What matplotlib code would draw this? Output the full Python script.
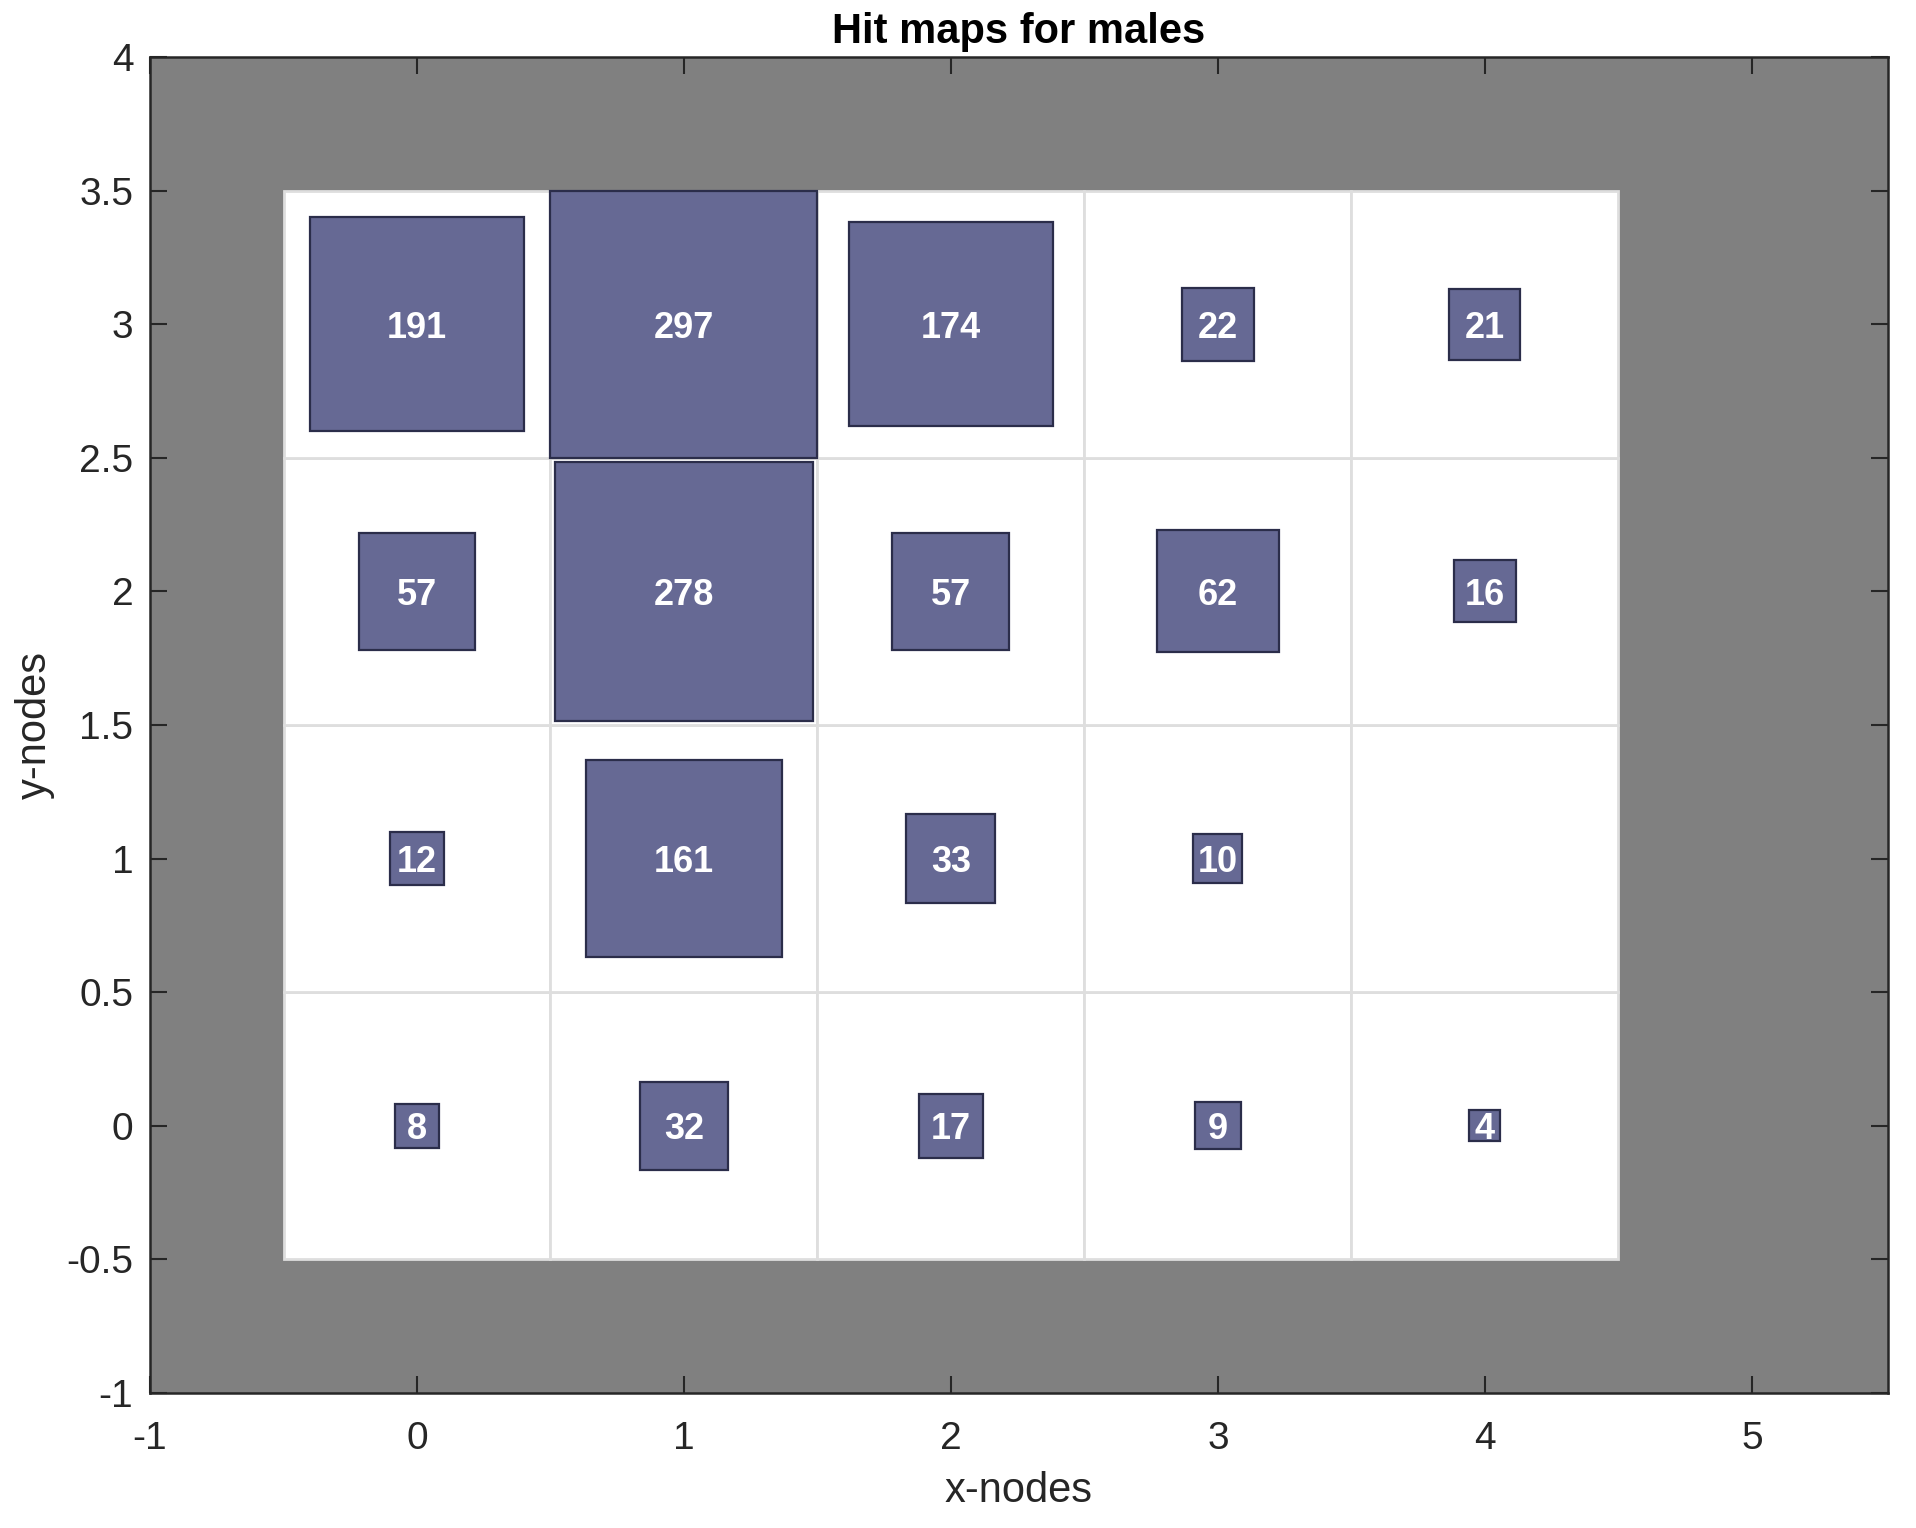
import numpy as np
import matplotlib.pyplot as plt
from matplotlib.patches import Rectangle

plt.rcParams['font.family'] = ['Liberation Sans', 'DejaVu Sans']
plt.rcParams['axes.unicode_minus'] = False

# hits per node, rows are y = 0..3, columns x = 0..4
hits_y0 = [8, 32, 17, 9, 4]
hits_y1 = [12, 161, 33, 10, 0]
hits_y2 = [57, 278, 57, 62, 16]
hits_y3 = [191, 297, 174, 22, 21]
x_nodes = [0, 1, 2, 3, 4]
y_nodes = [0, 1, 2, 3]

hits = np.array([hits_y0, hits_y1, hits_y2, hits_y3])
hmax = hits.max()

fig = plt.figure(figsize=(19.16, 15.28), dpi=100)
ax = fig.add_axes([0.0783, 0.0884, 0.9071, 0.8743])
ax.set_facecolor('#808080')

# white node cells with light grid
for yi in y_nodes:
    for xi in x_nodes:
        ax.add_patch(Rectangle((xi - 0.5, yi - 0.5), 1, 1, facecolor='white',
                               edgecolor='#dedede', linewidth=2, zorder=1))

# hit squares
for yi in y_nodes:
    for xi in x_nodes:
        h = hits[yi, xi]
        if h == 0:
            continue
        s = np.sqrt(h / hmax)
        ax.add_patch(Rectangle((xi - s / 2, yi - s / 2), s, s, facecolor='#666994',
                               edgecolor='#2b2d4a', linewidth=1.6, zorder=2))
        ax.text(xi, yi - 0.015, str(h), color='white', fontsize=26, fontweight='bold',
                ha='center', va='center', zorder=3)

ax.set_xlim(-1, 5.51)
ax.set_ylim(-1, 4)
ax.set_xticks([-1, 0, 1, 2, 3, 4, 5])
ax.set_yticks([-1, -0.5, 0, 0.5, 1, 1.5, 2, 2.5, 3, 3.5, 4])
ax.set_yticklabels(['-1', '-0.5', '0', '0.5', '1', '1.5', '2', '2.5', '3', '3.5', '4'])
ax.tick_params(direction='in', length=12, width=1.5, top=True, right=True,
               labelsize=28, colors='#262626', pad=12)
ax.tick_params(axis='x', pad=20)
for sp in ax.spines.values():
    sp.set_linewidth(1.8)
    sp.set_color('#262626')

ax.set_xlabel('x-nodes', fontsize=30, color='#262626', labelpad=10)
ax.set_ylabel('y-nodes', fontsize=30, color='#262626', labelpad=8)
ax.set_title('Hit maps for males', fontsize=30, fontweight='bold', pad=10)

plt.savefig('out.png')
